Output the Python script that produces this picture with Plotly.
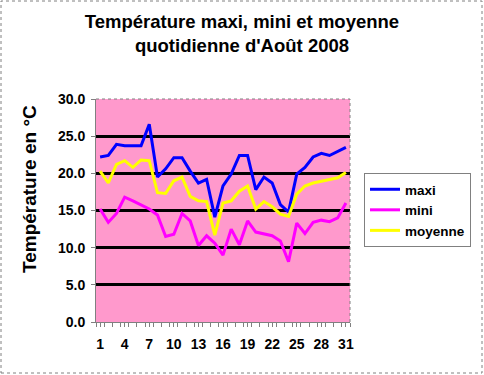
import plotly.graph_objects as go

days = list(range(1, 32))
maxi = [22.2, 22.4, 23.9, 23.7, 23.7, 23.7, 26.6, 19.5, 20.6, 22.1, 22.1,
        20.3, 18.7, 19.2, 14.1, 18.3, 19.9, 22.4, 22.4, 17.8, 19.5,
        18.7, 15.8, 14.8, 19.9, 20.8, 22.2, 22.7, 22.4, 23.0, 23.5]
mini = [15.2, 13.4, 14.6, 16.8, 16.3, 15.7, 15.2, 14.4, 11.5, 11.8, 14.6,
        13.6, 10.3, 11.6, 10.6, 9.0, 12.5, 10.4, 13.6, 12.1, 11.9,
        11.6, 10.9, 8.1, 13.3, 11.9, 13.4, 13.7, 13.5, 14.0, 16.0]
moyenne = [20.3, 18.7, 21.2, 21.7, 20.8, 21.8, 21.7, 17.4, 17.3, 19.0, 19.5,
           16.9, 16.3, 16.2, 11.7, 16.0, 16.3, 17.6, 18.3, 15.2, 16.2,
           15.5, 14.5, 14.2, 17.2, 18.3, 18.7, 18.9, 19.1, 19.4, 20.1]
xtick_vals = [1, 4, 7, 10, 13, 16, 19, 22, 25, 28, 31]

FONT = "Arial, 'Liberation Sans', sans-serif"

fig = go.Figure()
for name, vals, col in [("maxi", maxi, "#0000FF"),
                        ("mini", mini, "#FF00FF"),
                        ("moyenne", moyenne, "#FFFF00")]:
    fig.add_trace(go.Scatter(x=days, y=vals, mode="lines", name=name,
                             line=dict(color=col, width=3)))

W, H = 484, 375
L, R, T, B = 96, 134, 99, 53
pw, ph = W - L - R, H - T - B

fig.update_layout(
    width=W, height=H,
    margin=dict(l=L, r=R, t=T, b=B),
    paper_bgcolor="white",
    plot_bgcolor="#FF99CC",
    font=dict(family=FONT, color="black", size=13),
    title=dict(text="Température maxi, mini et moyenne<br>quotidienne d'Août 2008",
               x=0.5, xanchor="center", xref="container",
               y=1 - 28 / H, yanchor="middle", yref="container",
               font=dict(size=18.5, family=FONT, weight="bold")),
    xaxis=dict(range=[0.5, 31.5], tickvals=xtick_vals, ticks="outside",
               ticklen=4, tickcolor="#808080", showgrid=False, zeroline=False,
               showline=True, linecolor="#808080", linewidth=1,
               ticklabelstandoff=5,
               tickfont=dict(size=14, family=FONT, weight="bold"),
               minor=dict(tick0=0.5, dtick=1, ticks="outside", ticklen=4,
                          tickcolor="#808080", showgrid=False)),
    yaxis=dict(range=[0, 30], dtick=5, tickformat=".1f", ticks="outside",
               ticklen=4, tickcolor="#808080", showgrid=True, gridcolor="black",
               gridwidth=2.5, zeroline=False, showline=True, linecolor="#808080",
               linewidth=1, ticklabelstandoff=3,
               tickfont=dict(size=14, family=FONT, weight="bold")),
    legend=dict(x=(364 - L) / pw, xanchor="left", y=1 - (173 - T) / ph, yanchor="top",
                bgcolor="white", bordercolor="#808080", borderwidth=1,
                font=dict(size=13.5, family=FONT, weight="bold"),
                itemwidth=30, tracegroupgap=4),
    showlegend=True,
)
# y axis title (placed like the original, above the plot centre)
fig.add_annotation(text="Température en °C", textangle=-90, showarrow=False,
                   xref="paper", yref="paper",
                   x=(29 - L) / pw, y=1 - (189 - T) / ph,
                   xanchor="center", yanchor="middle",
                   font=dict(size=19, family=FONT, weight="bold", color="black"))
# outer dashed chart border
fig.add_shape(type="rect", xref="paper", yref="paper",
              x0=(1 - L) / pw, x1=(W - 2 - L) / pw,
              y0=-(B - 2) / ph, y1=1 + (T - 1) / ph,
              line=dict(color="#808080", width=1, dash="dot"))
# top and right borders of plot area
fig.add_shape(type="line", xref="paper", yref="paper", x0=0, x1=1, y0=1, y1=1,
              line=dict(color="#808080", width=1, dash="dot"))
fig.add_shape(type="line", xref="paper", yref="paper", x0=1, x1=1, y0=0, y1=1,
              line=dict(color="#808080", width=1, dash="dot"))

fig.write_html("out.html", config={"displayModeBar": False},
               post_script="document.body.style.margin='0';document.body.style.overflow='hidden';")
